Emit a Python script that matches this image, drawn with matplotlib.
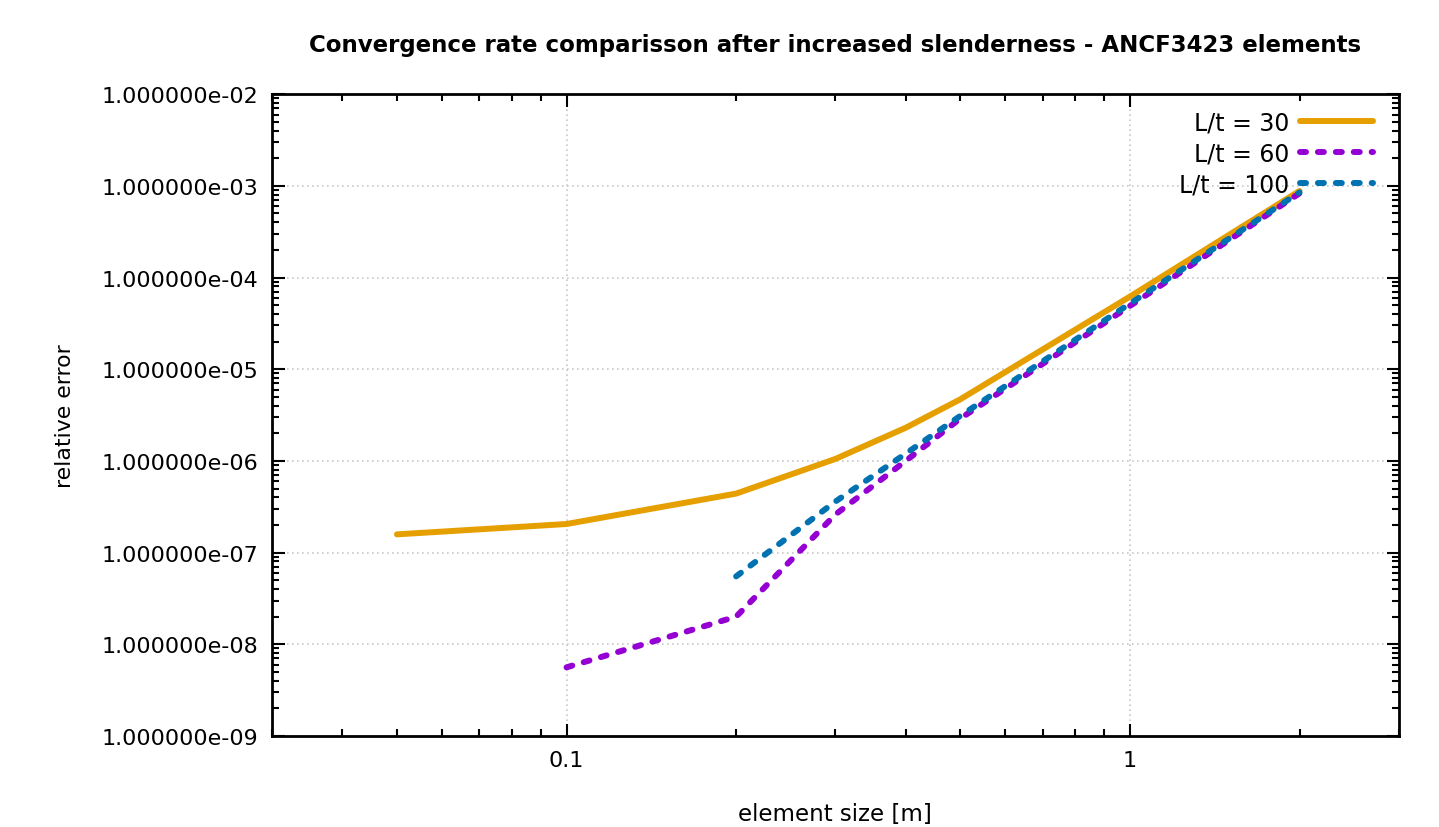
import matplotlib.pyplot as plt
from matplotlib.ticker import FuncFormatter, LogLocator, FixedLocator, NullFormatter

# element size [m]
size_30 = [0.05, 0.1, 0.2, 0.3, 0.4, 0.5, 1.0, 2.0]
err_30 = [1.58e-7, 2.05e-7, 4.4e-7, 1.05e-6, 2.3e-6, 4.7e-6, 6.2e-5, 8.8e-4]

size_60 = [0.1, 0.2, 0.3, 0.4, 0.5, 1.0, 2.0]
err_60 = [5.6e-9, 2.0e-8, 2.6e-7, 1.0e-6, 2.9e-6, 4.9e-5, 8.3e-4]

size_100 = [0.2, 0.3, 0.4, 0.5, 1.0, 2.0]
err_100 = [5.5e-8, 3.6e-7, 1.2e-6, 3.1e-6, 5.2e-5, 8.5e-4]

fig = plt.figure(figsize=(14.39, 8.28), dpi=100)
ax = fig.add_axes([0.189, 0.110, 0.783, 0.775])

lw = 4.3
ax.plot(size_30, err_30, color="#E69F00", lw=lw, solid_capstyle="round", label="L/t = 30")
ax.plot(size_60, err_60, color="#9400D3", lw=lw, dashes=(1.0, 2.0),
        dash_capstyle="round", label="L/t = 60")
ax.plot(size_100, err_100, color="#0072B2", lw=lw, dashes=(1.0, 2.0),
        dash_capstyle="round", label="L/t = 100")

ax.set_xscale("log")
ax.set_yscale("log")
ax.set_xlim(0.03, 3)
ax.set_ylim(1e-9, 1e-2)

ax.xaxis.set_major_locator(FixedLocator([0.1, 1]))
ax.xaxis.set_major_formatter(FuncFormatter(lambda v, p: f"{v:g}"))
ax.xaxis.set_minor_locator(LogLocator(base=10, subs=range(2, 10), numticks=20))
ax.xaxis.set_minor_formatter(NullFormatter())
ax.yaxis.set_major_locator(LogLocator(base=10, numticks=20))
ax.yaxis.set_major_formatter(FuncFormatter(lambda v, p: f"{v:.6e}"))
ax.yaxis.set_minor_locator(LogLocator(base=10, subs=range(2, 10), numticks=20))
ax.yaxis.set_minor_formatter(NullFormatter())

ax.tick_params(which="both", direction="in", top=True, right=True, labelsize=16,
               width=1.5, colors="black")
ax.tick_params(which="major", length=9, pad=10)
ax.tick_params(which="minor", length=5)
for s in ax.spines.values():
    s.set_linewidth(2)

ax.grid(which="major", linestyle=(0, (1, 2)), color="#c8c8c8", linewidth=1.2)

ax.set_title("Convergence rate comparisson after increased slenderness - ANCF3423 elements",
             fontsize=16.5, fontweight="bold", pad=31)
ax.set_xlabel("element size [m]", fontsize=16.5, labelpad=23)
ax.set_ylabel("relative error", fontsize=15.8, labelpad=19)

leg = ax.legend(loc="upper right", bbox_to_anchor=(0.977, 0.975), frameon=False,
                markerfirst=False, fontsize=17, handlelength=3.1, handletextpad=0.45,
                labelspacing=0.3, borderaxespad=0, borderpad=0)
for t in leg.get_texts():
    t.set_ha("right")

fig.savefig("out.png", dpi=100)
